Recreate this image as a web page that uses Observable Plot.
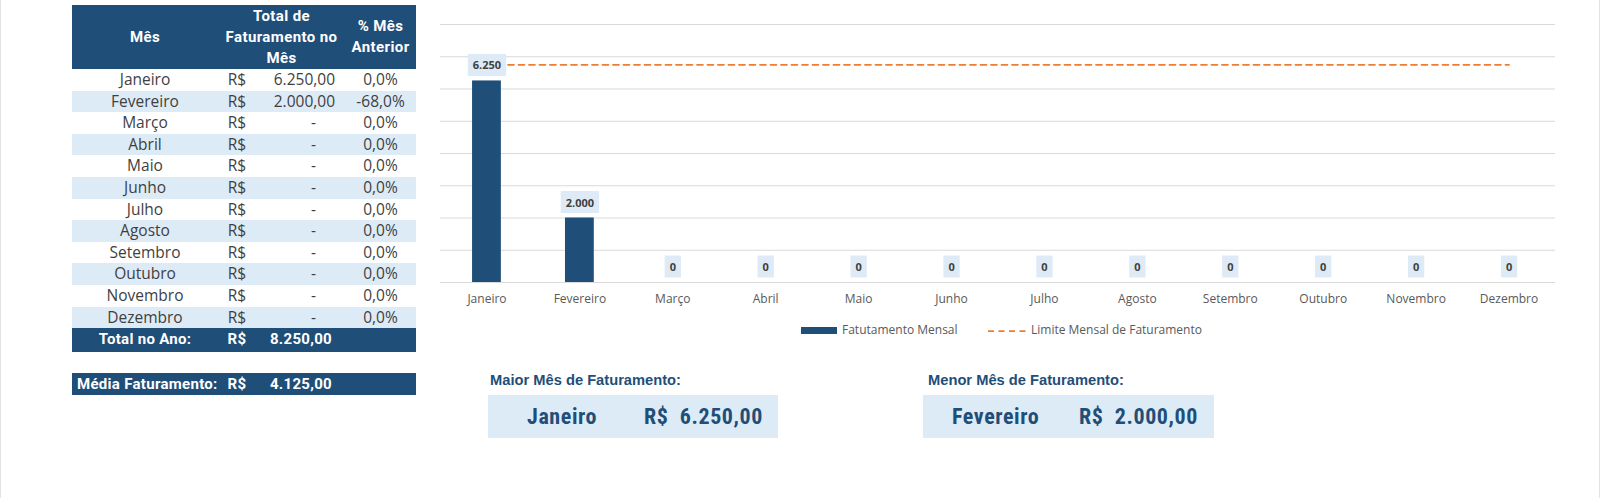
<!DOCTYPE html>
<html>
<head>
<meta charset="utf-8">
<script src="https://cdn.jsdelivr.net/npm/d3@7"></script>
<script src="https://cdn.jsdelivr.net/npm/@observablehq/plot@0.6"></script>
<style>
  html, body { margin: 0; padding: 0; background: #fff; }
  #page { position: relative; width: 1600px; height: 498px; overflow: hidden; background: #fff; }
  #rborder { position: absolute; left: 1599px; top: 0; width: 1px; height: 498px; background: #e3e3e3; }
  #lborder { position: absolute; left: 0; top: 0; width: 1px; height: 498px; background: #e3e3e3; }
  table.t { position: absolute; left: 72px; border-collapse: collapse; table-layout: fixed; width: 344px; }
  table.t td, table.t th { padding: 0; overflow: visible; white-space: nowrap; }
  #tab { top: 5px; }
  #tab thead th { background: #1F4E79; color: #fff; font-family: Roboto, sans-serif; font-weight: 700; font-size: 15px; line-height: 21px; height: 64px; text-align: center; letter-spacing: 0.4px; }
  #tab tbody td { font-family: "Open Sans", sans-serif; font-size: 15.5px; color: #3f3f3f; height: 21.6px; line-height: 21.6px; }
  #tab tbody tr.alt td { background: #DDEBF7; }
  td.mes { text-align: center; }
  td.rs { text-align: center; }
  td.val { text-align: right; padding-right: 10px !important; }
  td.val.zero { padding-right: 29px !important; }
  td.pct { text-align: center; }
  tr.tot td { background: #1F4E79; color: #fff !important; font-family: Roboto, sans-serif !important; font-weight: 700; font-size: 15px !important; height: 23.4px !important; line-height: 23.4px !important; letter-spacing: 0.3px; }
  tr.tot td.val { padding-right: 13px !important; }
  #media { top: 373px; }
  #media td { background: #1F4E79; color: #fff; font-family: Roboto, sans-serif; font-weight: 700; font-size: 15px; height: 22px; line-height: 22px; letter-spacing: 0.3px; }
  #chart { position: absolute; left: 430px; top: 0; }
  #legend { position: absolute; top: 321px; left: 0; width: 1600px; height: 17px; font-family: "Open Sans", sans-serif; font-size: 12px; color: #595959; }
  #legend .sw1 { position: absolute; left: 801px; top: 6px; width: 36px; height: 7px; background: #1F4E79; }
  #legend .t1 { position: absolute; left: 842px; top: 0; line-height: 18px; }
  #legend svg { position: absolute; left: 988px; top: 8px; }
  #legend .t2 { position: absolute; left: 1031px; top: 0; line-height: 18px; }
  .kpiTitle { position: absolute; top: 370px; font-family: "Liberation Sans", Arial, sans-serif; font-weight: 700; font-size: 14.7px; color: #1F4E79; line-height: 20px; }
  .kpiBox { position: absolute; top: 395px; height: 43px; background: #DDEBF7; color: #1F4E79; font-family: "Liberation Sans Narrow", "Roboto Condensed", Roboto, sans-serif; font-weight: 700; font-size: 22px; line-height: 43px; letter-spacing: 0.6px; }
  .kpiBox span { position: absolute; top: 0; white-space: pre; }
</style>
</head>
<body>
<div id="page">
  <div id="lborder"></div>
  <div id="rborder"></div>
  <table class="t" id="tab">
    <colgroup><col style="width:146px"><col style="width:38px"><col style="width:89px"><col style="width:71px"></colgroup>
    <thead><tr><th>Mês</th><th colspan="2">Total de<br>Faturamento no<br>Mês</th><th>% Mês<br>Anterior</th></tr></thead>
    <tbody id="tbody"></tbody>
  </table>
  <table class="t" id="media">
    <colgroup><col style="width:146px"><col style="width:38px"><col style="width:89px"><col style="width:71px"></colgroup>
    <tbody><tr><td style="padding-left:5px">Média Faturamento:</td><td style="text-align:center">R$</td><td id="mediaVal" style="text-align:right;padding-right:13px"></td><td></td></tr></tbody>
  </table>
  <div id="chart"></div>
  <div id="legend">
    <div class="sw1"></div><div class="t1">Fatutamento Mensal</div>
    <svg width="38" height="4"><line x1="0" y1="2" x2="38" y2="2" stroke="#ED7D31" stroke-width="1.75" stroke-dasharray="6,4.5"/></svg>
    <div class="t2">Limite Mensal de Faturamento</div>
  </div>
  <div class="kpiTitle" style="left:490px">Maior Mês de Faturamento:</div>
  <div class="kpiBox" style="left:488px;width:290px"><span id="maiorMes" style="left:39px"></span><span id="maiorVal" style="right:15px"></span></div>
  <div class="kpiTitle" style="left:928px">Menor Mês de Faturamento:</div>
  <div class="kpiBox" style="left:923px;width:291px"><span id="menorMes" style="left:29px"></span><span id="menorVal" style="right:16px"></span></div>
</div>
<script>
// ---- data ----
const meses = ["Janeiro","Fevereiro","Março","Abril","Maio","Junho","Julho","Agosto","Setembro","Outubro","Novembro","Dezembro"];
const faturamento = [6250, 2000, 0, 0, 0, 0, 0, 0, 0, 0, 0, 0];
const pctMesAnterior = [0.0, -68.0, 0.0, 0.0, 0.0, 0.0, 0.0, 0.0, 0.0, 0.0, 0.0, 0.0];
const limiteMensal = 6750;
const yTicks = [0, 1000, 2000, 3000, 4000, 5000, 6000, 7000, 8000];

// ---- formatting (pt-BR) ----
function grp(n) { return String(Math.trunc(Math.abs(n))).replace(/\B(?=(\d{3})+(?!\d))/g, "."); }
function fmtInt(v) { return (v < 0 ? "-" : "") + grp(v); }
function fmtMoney(v) { const c = Math.round(Math.abs(v) * 100) % 100; return (v < 0 ? "-" : "") + grp(v) + "," + String(c).padStart(2, "0"); }
function fmtPct(v) { return (v < 0 ? "-" : "") + Math.abs(v).toFixed(1).replace(".", ",") + "%"; }

// ---- table ----
const tbody = document.getElementById("tbody");
meses.forEach((m, i) => {
  const tr = document.createElement("tr");
  if (i % 2 === 1) tr.className = "alt";
  const v = faturamento[i];
  tr.innerHTML = `<td class="mes">${m}</td><td class="rs">R$</td><td class="val${v === 0 ? " zero" : ""}">${v === 0 ? "-" : fmtMoney(v)}</td><td class="pct">${fmtPct(pctMesAnterior[i])}</td>`;
  tbody.appendChild(tr);
});
const total = d3.sum(faturamento);
const nonzero = faturamento.filter(v => v > 0);
const media = total / nonzero.length;
const trt = document.createElement("tr");
trt.className = "tot";
trt.innerHTML = `<td class="mes">Total no Ano:</td><td class="rs">R$</td><td class="val">${fmtMoney(total)}</td><td></td>`;
tbody.appendChild(trt);
document.getElementById("mediaVal").textContent = fmtMoney(media);

const iMax = faturamento.indexOf(d3.max(nonzero));
const iMin = faturamento.indexOf(d3.min(nonzero));
document.getElementById("maiorMes").textContent = meses[iMax];
document.getElementById("maiorVal").textContent = "R$  " + fmtMoney(faturamento[iMax]);
document.getElementById("menorMes").textContent = meses[iMin];
document.getElementById("menorVal").textContent = "R$  " + fmtMoney(faturamento[iMin]);

// ---- chart ----
const dados = meses.map((m, i) => ({ mes: m, valor: faturamento[i], limite: limiteMensal }));
const chart = Plot.plot({
  width: 1140,
  height: 310,
  marginLeft: 10,
  marginRight: 15,
  marginTop: 24,
  marginBottom: 28,
  style: { fontFamily: "'Open Sans', sans-serif", fontSize: "12px", color: "#595959", background: "transparent", overflow: "visible" },
  x: { domain: meses, paddingInner: 0.69, paddingOuter: 0.345, round: false, label: null, tickSize: 0, tickPadding: 12 },
  y: { domain: [0, 8000], axis: null },
  marks: [
    Plot.gridY(yTicks, { stroke: "#d9d9d9", strokeOpacity: 1, strokeWidth: 1 }),
    Plot.barY(dados, { x: "mes", y: "valor", fill: "#1F4E79" }),
    Plot.line(dados, { x: "mes", y: "limite", stroke: "#ED7D31", strokeWidth: 1.75, strokeDasharray: "6,4.5" }),
    Plot.text(dados, { x: "mes", y: "valor", text: d => fmtInt(d.valor), dy: -15, className: "vlabel",
      fontFamily: "'Open Sans', sans-serif", fontWeight: "bold", fontSize: 11, fill: "#404040", lineAnchor: "middle" })
  ]
});
document.getElementById("chart").appendChild(chart);

// label background boxes, sized to each rendered label
d3.select(chart).selectAll("g.vlabel text").each(function () {
  const b = this.getBBox();
  const r = document.createElementNS("http://www.w3.org/2000/svg", "rect");
  r.setAttribute("x", b.x - 5);
  r.setAttribute("y", b.y + b.height / 2 - 11);
  r.setAttribute("width", b.width + 10);
  r.setAttribute("height", 22);
  r.setAttribute("fill", "#DEEBF7");
  const tf = this.getAttribute("transform");
  if (tf) r.setAttribute("transform", tf);
  this.parentNode.insertBefore(r, this);
});
</script>
</body>
</html>
